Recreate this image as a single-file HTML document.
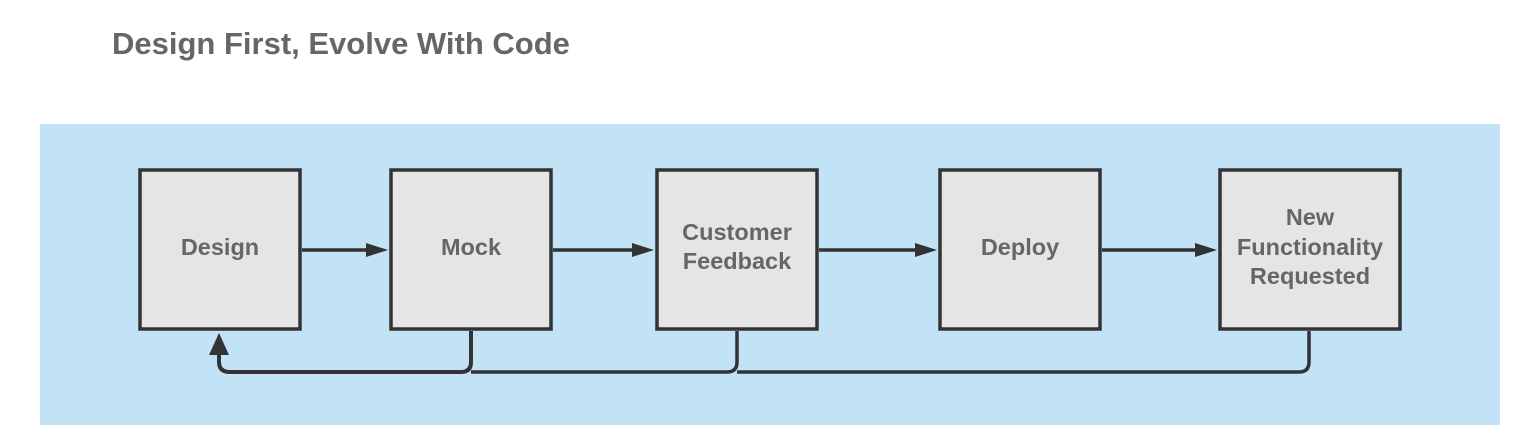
<!DOCTYPE html>
<html><head><style>
html,body{margin:0;padding:0;background:#fff;width:1538px;height:425px;overflow:hidden}
text{font-family:"Liberation Sans",Arial,sans-serif;font-weight:bold;fill:#666}
</style></head><body>
<svg width="1538" height="425" xmlns="http://www.w3.org/2000/svg">
<text x="112" y="54" font-size="31">Design First, Evolve With Code</text>
<rect x="40" y="124" width="1460" height="301" fill="#c1e3f5"/>
<g fill="#e5e5e5" stroke="#333" stroke-width="3.5">
<rect x="140" y="170" width="160" height="159"/>
<rect x="391" y="170" width="160" height="159"/>
<rect x="657" y="170" width="160" height="159"/>
<rect x="940" y="170" width="160" height="159"/>
<rect x="1220" y="170" width="180" height="159"/>
</g>
<g stroke="#333" stroke-width="3.5" fill="none">
<line x1="302" y1="250" x2="372" y2="250"/>
<line x1="553" y1="250" x2="638" y2="250"/>
<line x1="819" y1="250" x2="921" y2="250"/>
<line x1="1102" y1="250" x2="1201" y2="250"/>
<path d="M471 331 V362 Q471 372 461 372 H230 Q219 372 219 362 V345" stroke-width="4"/>
<path d="M737 331 V362 Q737 372 727 372 H471"/>
<path d="M1309 331 V362 Q1309 372 1299 372 H737"/>
</g>
<g fill="#333">
<polygon points="366,243 388,250 366,257"/>
<polygon points="632,243 654,250 632,257"/>
<polygon points="915,243 937,250 915,257"/>
<polygon points="1195,243 1217,250 1195,257"/>
<polygon points="209,355 219,333 229,355"/>
</g>
<g font-size="23.5" text-anchor="middle">
<text x="220" y="255">Design</text>
<text x="471" y="255">Mock</text>
<text x="737" y="240">Customer</text>
<text x="737" y="269">Feedback</text>
<text x="1020" y="255">Deploy</text>
<text x="1310" y="225">New</text>
<text x="1310" y="255">Functionality</text>
<text x="1310" y="284">Requested</text>
</g>
</svg>
</body></html>
